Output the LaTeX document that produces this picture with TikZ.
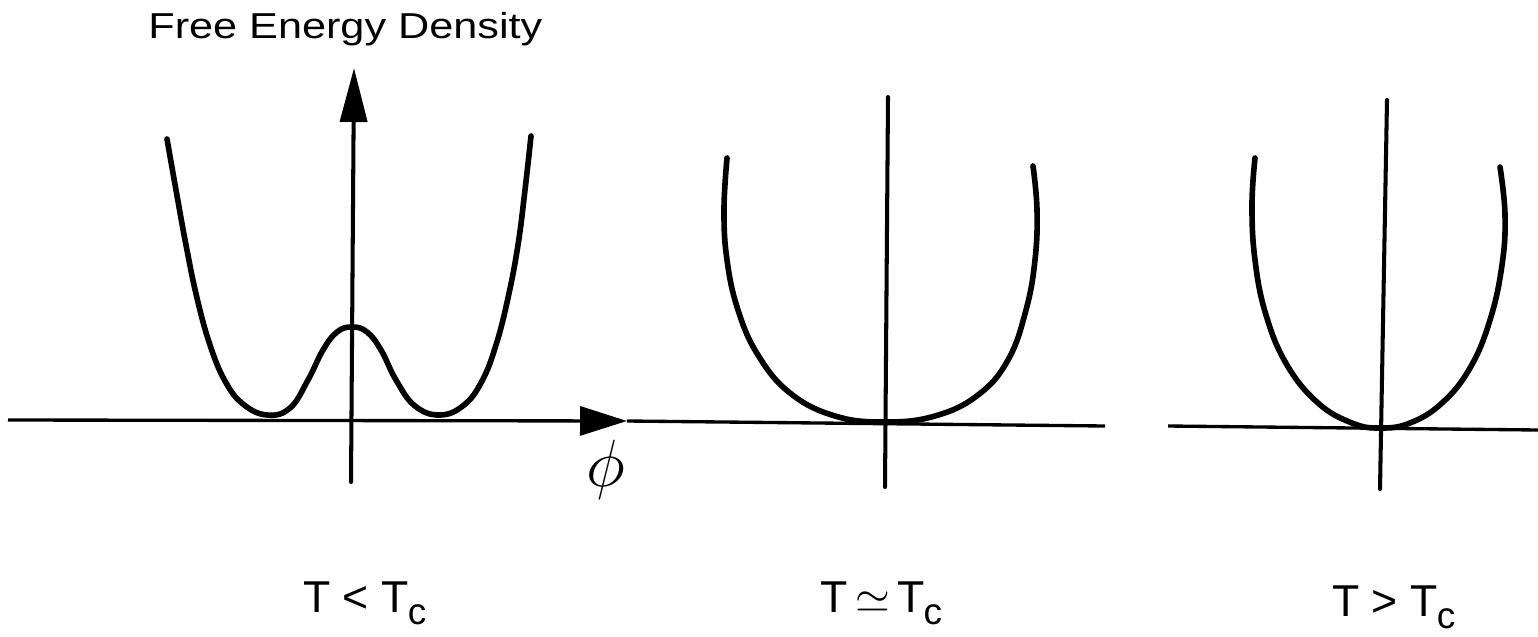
\documentclass[tikz,border=0pt]{standalone}
\usepackage{fix-cm}
\usepackage{fontspec}
\setmainfont{Liberation Sans}
\newfontfamily\headfont{Liberation Sans}[FakeStretch=1.2]
\usetikzlibrary{arrows.meta}
\newcommand{\Tcrit}{T\kern-0.5pt\raisebox{-0.25cm}{\fontsize{21}{21}\selectfont c}}

\begin{document}
\begin{tikzpicture}[x=0.02cm,y=-0.02cm,
  every node/.style={inner sep=0pt,font=\fontsize{25.4}{30}\selectfont},
  potential/.style={line width=3.2pt,line cap=round,line join=round},
  axisline/.style={line width=1.9pt},
  vline/.style={line width=2.3pt,line cap=round}]
\path[use as bounding box,fill=white] (0,0) rectangle (1538,636);
\coordinate (h1l) at (8,420);
\coordinate (h1r) at (627,421);
\coordinate (h2r) at (1105,426);
\coordinate (h3l) at (1168,426);
\coordinate (h3r) at (1538,430);
\coordinate (v1b) at (351,482);
\coordinate (v1t) at (354,68);
\coordinate (v2t) at (888,97);
\coordinate (v2b) at (885,487);
\coordinate (v3t) at (1387,100);
\coordinate (v3b) at (1380,489);
\draw[axisline,-{Triangle[length=0.94cm,width=0.58cm]}] (h1l) -- (h1r);
\draw[axisline] (h1r) -- (h2r);
\draw[axisline] (h3l) -- (h3r);
\draw[vline,-{Triangle[length=1.08cm,width=0.54cm]}] (v1b) -- (v1t);
\draw[vline] (v2t) -- (v2b);
\draw[vline] (v3t) -- (v3b);
\draw[potential] plot[smooth,tension=0.7] coordinates {(167,139) (176,190) (186,245) (197,298) (210,345) (225,381) (243,404) (267,415) (290,408) (308,380) (323,350) (337,332) (352,327) (367,332) (381,350) (396,380) (415,406) (440,415) (464,405) (482,381) (496,345) (508,298) (518,245) (525,190) (531,136)};
\draw[potential] plot[smooth,tension=0.7] coordinates {(727,158) (724,210) (727,260) (738,310) (758,355) (790,393) (835,416) (885,422) (935,416) (978,395) (1008,360) (1026,310) (1035,260) (1037,210) (1033,166)};
\draw[potential] plot[smooth,tension=0.7] coordinates {(1255,158) (1252,205) (1255,260) (1266,315) (1287,365) (1318,403) (1352,423) (1380,428) (1410,423) (1442,403) (1470,368) (1490,320) (1502,265) (1505,215) (1500,167)};
\node[anchor=base west,font=\headfont\fontsize{20.5}{24}\selectfont] (title) at (148,38) {Free Energy Density};
\node[font=\fontsize{38}{42}\selectfont] (phi) at (606,470) {$\phi$};
\node[anchor=base west] (below) at (303,612) {T < \Tcrit};
\node[anchor=base west] (near) at (820,612) {T\,$\simeq$\,\Tcrit};
\node[anchor=base west] (above) at (1332,616) {T > \Tcrit};
\end{tikzpicture}
\end{document}
